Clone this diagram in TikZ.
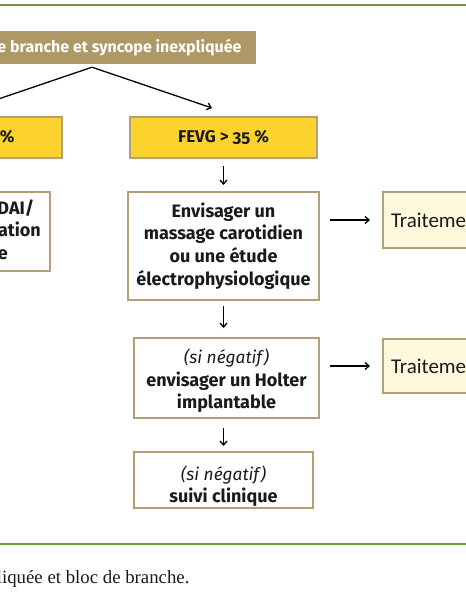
\documentclass[tikz,border=0pt]{standalone}
\usepackage{fontspec}
\setsansfont{Fira Sans}[Numbers=OldStyle]
\newfontfamily\calib{Carlito}
\newfontfamily\capserif{Liberation Serif}
\usetikzlibrary{arrows.meta,calc}
\definecolor{tanline}{HTML}{B3A076}
\definecolor{titlefill}{HTML}{AE9966}
\definecolor{yellowfill}{HTML}{FBD22E}
\definecolor{creamfill}{HTML}{FEF9DC}
\definecolor{rulegreen}{HTML}{6E9B3A}
\definecolor{txt}{HTML}{1A1A1A}
\begin{document}
\begin{tikzpicture}[x=1pt,y=-1pt,
  font=\sffamily\fontsize{18}{22.7}\selectfont,
  every node/.style={text=txt},
  box/.style={draw=tanline,line width=2pt,align=center,inner sep=0pt},
  titlebox/.style={fill=titlefill,inner sep=0pt,text=white,font=\sffamily\bfseries\fontsize{16}{18}\selectfont},
  yellowbox/.style={box,fill=yellowfill,font=\sffamily\bfseries\fontsize{17}{20}\selectfont},
  whitebox/.style={box,fill=white,font=\sffamily\bfseries\fontsize{18}{22.7}\selectfont},
  creambox/.style={box,fill=creamfill,font=\calib\fontsize{21}{22}\selectfont},
  arr/.style={line width=1.3pt,-{Straight Barb[length=4pt,width=7pt]}},
  greenrule/.style={draw=rulegreen,line width=2pt}
]
\useasboundingbox (0,0) rectangle (466,600);
\clip (0,0) rectangle (466,600);

\draw[greenrule] (-5,5) -- (471,5);
\draw[greenrule] (-5,544) -- (471,544);

\node[titlebox,minimum width=318pt,minimum height=33pt] (title) at (97,47.5)
  {Bloc de branche et syncope inexpliquée};

\node[yellowbox,minimum width=186pt,minimum height=41pt] (fevgL) at (-31,137.5) {FEVG ≤ 35 \%};
\node[yellowbox,minimum width=187pt,minimum height=41pt] (fevgR) at (223.5,137.5) {FEVG > 35 \%};

\coordinate (tl) at (-28,108);
\coordinate (tr) at (212,108);
\draw[arr] ([xshift=-5pt,yshift=-3pt]title.south) -- (tl);
\draw[arr] ([xshift=-5pt,yshift=-3pt]title.south) -- (tr);

\node[whitebox,minimum width=166pt,minimum height=79pt] (dai) at (-33,231.5)
  {Implanter un DAI/\hspace*{12pt}\\resynchronisation\\cardiaque};

\node[whitebox,minimum width=191pt,minimum height=108pt] (env) at (223.5,246)
  {Envisager un\\massage carotidien\\ou une étude\\électrophysiologique};

\node[whitebox,minimum width=185pt,minimum height=80pt] (holter) at (226.5,378)
  {\rule{0pt}{20pt}{\mdseries\itshape\fontsize{17.3}{22.7}\selectfont (si négatif)}\\envisager un Holter\\implantable};

\node[whitebox,minimum width=179pt,minimum height=56pt] (suivi) at (223.5,480)
  {\rule{0pt}{27pt}{\mdseries\itshape\fontsize{17.3}{22.7}\selectfont (si négatif)}\\suivi clinique};

\node[creambox,anchor=west,minimum width=130pt,minimum height=56pt,text width=114pt,align=left,inner xsep=8pt] (t1) at (382,220) {Traitement};
\node[creambox,anchor=west,minimum width=130pt,minimum height=54pt,text width=114pt,align=left,inner xsep=8pt] (t2) at (382,366) {Traitement};

\draw[arr,shorten <=7pt,shorten >=6pt] (fevgR.south) -- (fevgR.south |- env.north);
\draw[arr,shorten <=5pt,shorten >=9pt] (env.south) -- (env.south |- holter.north);
\draw[arr,shorten <=9pt,shorten >=5pt] (env.south |- holter.south) -- (env.south |- suivi.north);

\draw[arr,shorten <=10pt,shorten >=12pt] (t1.west -| env.east) -- (t1.west);
\draw[arr,shorten <=10pt,shorten >=12pt] (t2.west -| holter.east) -- (t2.west);

\node[anchor=base east,font=\capserif\fontsize{18.8}{20}\selectfont,text=txt] (caption) at (193,583)
  {Figure 1. Prise en charge d'une syncope inexpliquée et bloc de branche.};
\end{tikzpicture}
\end{document}
